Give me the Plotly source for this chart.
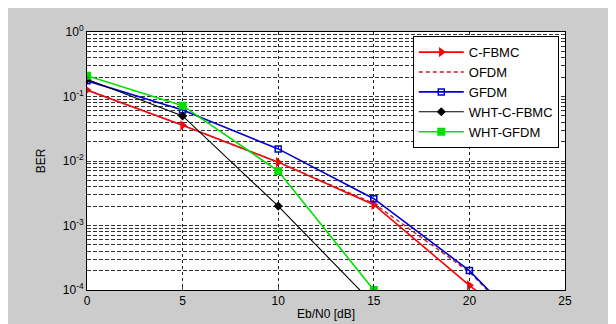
import plotly.graph_objects as go

snr = [0, 5, 10, 15, 20, 25]
c_fbmc = [0.126, 0.0357, 0.0096, 0.0021, 1.18e-4, 8e-6]
ofdm = [0.126, 0.0357, 0.0096, 0.0022, 1.9e-4, 6e-6]
gfdm = [0.175, 0.062, 0.0154, 0.0026, 2.0e-4, 6e-6]
wht_c_fbmc = [0.185, 0.050, 0.0020, 6e-5]
wht_gfdm = [0.21, 0.072, 0.0070, 1.0e-4]

ytick_vals = [1, 0.1, 0.01, 0.001, 0.0001]
ytick_text = ["10<sup>0</sup>", "10<sup>-1</sup>", "10<sup>-2</sup>", "10<sup>-3</sup>", "10<sup>-4</sup>"]
xtick_vals = [0, 5, 10, 15, 20, 25]

fig = go.Figure()
fig.add_trace(go.Scatter(x=snr, y=c_fbmc, name="C-FBMC", mode="lines+markers",
                         line=dict(color="#ff0000", width=1.6),
                         marker=dict(symbol="triangle-right", size=9, color="#ff0000")))
fig.add_trace(go.Scatter(x=snr, y=ofdm, name="OFDM", mode="lines",
                         line=dict(color="#c81e28", width=1.4, dash="4px,3px")))
fig.add_trace(go.Scatter(x=snr, y=gfdm, name="GFDM", mode="lines+markers",
                         line=dict(color="#0000d0", width=1.6),
                         marker=dict(symbol="square-open", size=6, color="#0000d0",
                                     line=dict(width=1.5))))
fig.add_trace(go.Scatter(x=snr[:4], y=wht_c_fbmc, name="WHT-C-FBMC", mode="lines+markers",
                         line=dict(color="#000000", width=1.1),
                         marker=dict(symbol="diamond", size=7, color="#000000")))
fig.add_trace(go.Scatter(x=snr[:4], y=wht_gfdm, name="WHT-GFDM", mode="lines+markers",
                         line=dict(color="#00e000", width=1.6),
                         marker=dict(symbol="square", size=8, color="#00e000")))

fig.update_layout(
    width=608, height=316,
    margin=dict(l=79, r=51, t=24, b=34, autoexpand=False),
    paper_bgcolor="#cccccc",
    plot_bgcolor="#ffffff",
    font=dict(family="Liberation Sans, Arial, sans-serif", size=12, color="#000000"),
    showlegend=True,
    legend=dict(x=0.987, y=0.984, xanchor="right", yanchor="top",
                bgcolor="#ffffff", bordercolor="#000000", borderwidth=1,
                font=dict(size=13), tracegroupgap=0, itemwidth=45),
    xaxis=dict(range=[0, 25], tickvals=xtick_vals, showline=True, mirror=True,
               linecolor="#000000", linewidth=1, ticks="inside", ticklen=4,
               tickfont=dict(size=12), automargin=False,
               showgrid=True, gridcolor="#222222", gridwidth=1, griddash="dot",
               zeroline=False,
               title=dict(text="Eb/N0 [dB]", standoff=2, font=dict(size=12))),
    yaxis=dict(type="log", range=[-4, 0], tickvals=ytick_vals, ticktext=ytick_text,
               showline=True, mirror=True, linecolor="#000000", linewidth=1,
               ticks="inside", ticklen=4, tickfont=dict(size=12), automargin=False,
               showgrid=True, gridcolor="#333333", gridwidth=1, griddash="4px,2px",
               minor=dict(showgrid=True, gridcolor="#333333", gridwidth=1,
                          griddash="4px,2px", ticks="inside", ticklen=2,
                          dtick="D1"),
               zeroline=False,
               title=dict(text="BER", standoff=14, font=dict(size=12))),
)

fig.write_html("out.html")
